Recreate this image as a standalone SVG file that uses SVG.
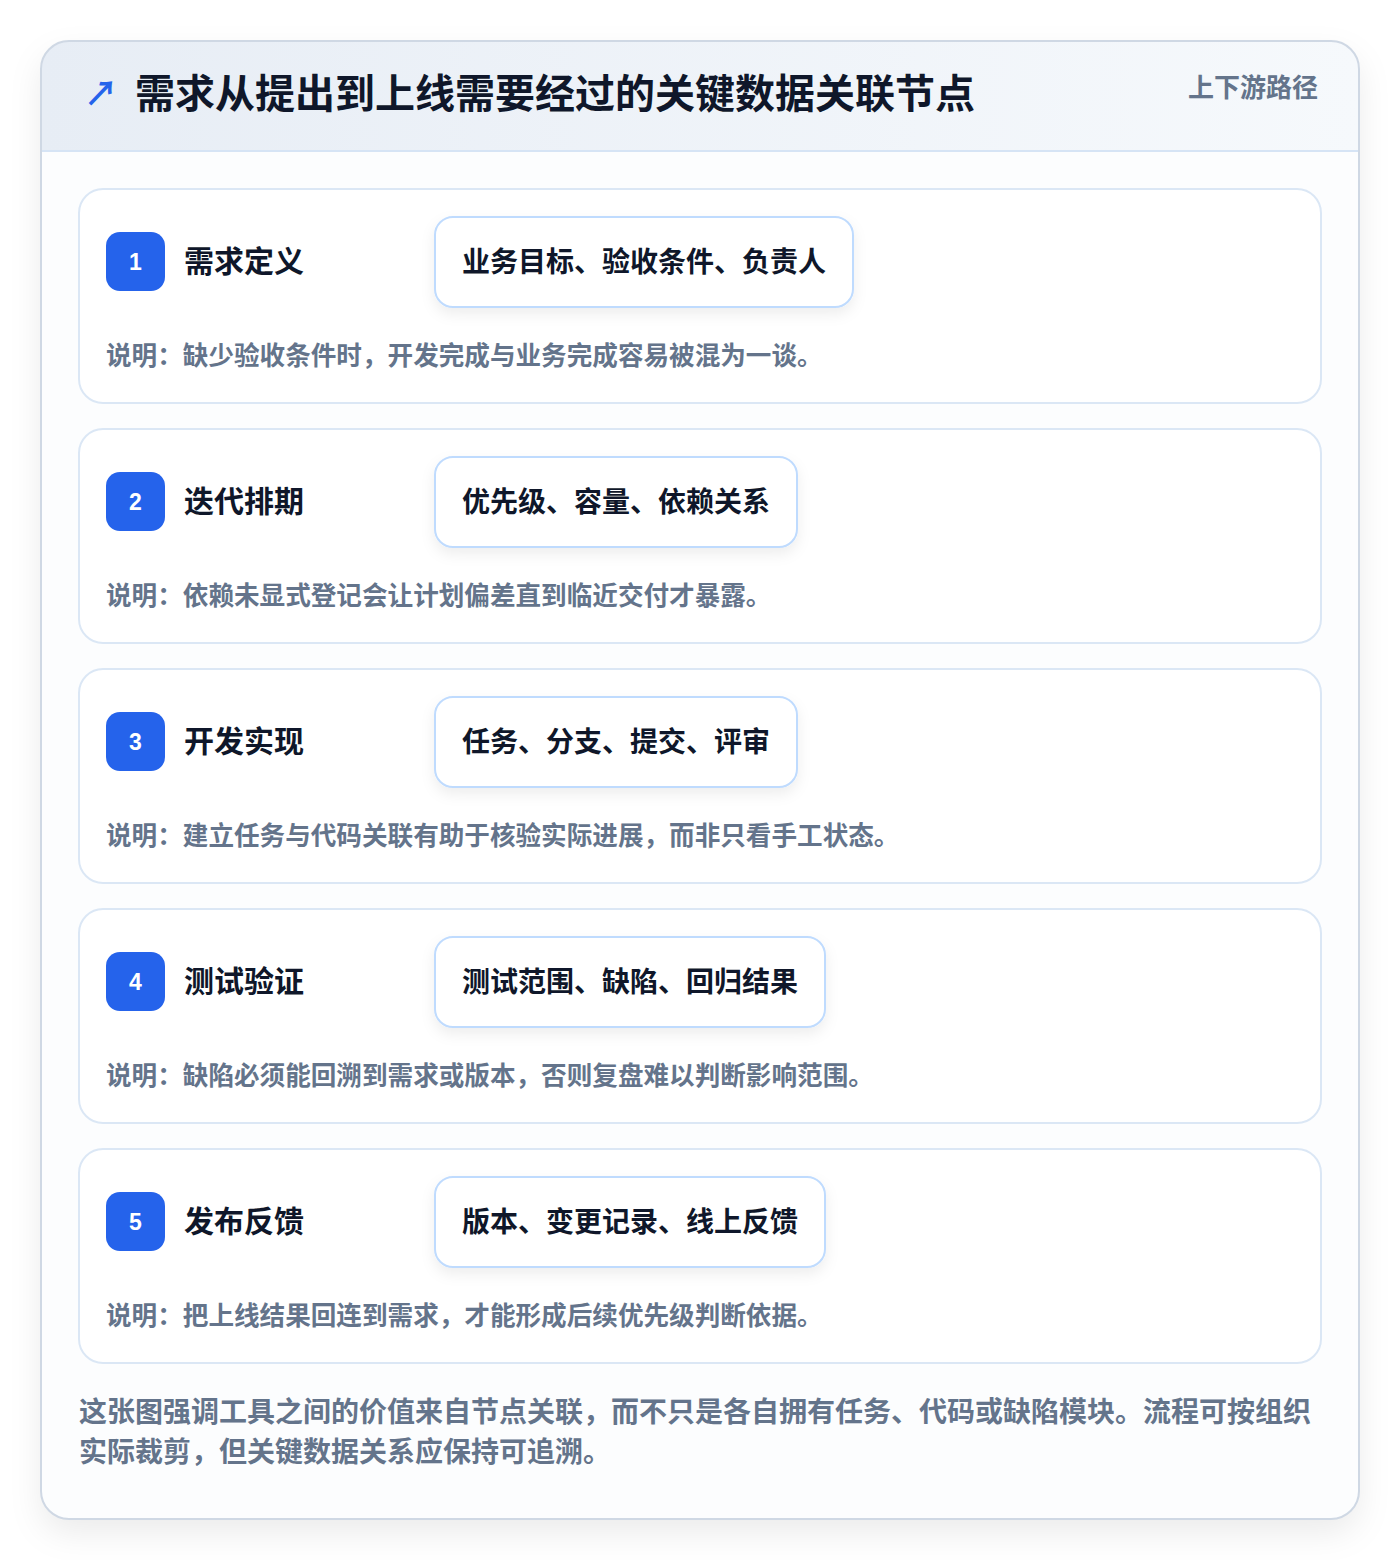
<svg xmlns="http://www.w3.org/2000/svg" width="1400" height="1560" viewBox="0 0 1400 1560">
<defs>
<linearGradient id="hdr" x1="0" y1="0" x2="1" y2="0">
<stop offset="0" stop-color="#e7edf5"/>
<stop offset="1" stop-color="#f6f9fc"/>
</linearGradient>
<filter id="outerShadow" x="-10%" y="-10%" width="120%" height="120%">
<feDropShadow dx="0" dy="14" stdDeviation="16" flood-color="#0f172a" flood-opacity="0.08"/>
</filter>
<filter id="chipShadow" x="-10%" y="-20%" width="120%" height="150%">
<feDropShadow dx="0" dy="6" stdDeviation="7" flood-color="#0f172a" flood-opacity="0.07"/>
</filter>
<clipPath id="cardClip"><rect x="41" y="41" width="1318" height="1478" rx="28"/></clipPath>
</defs>
<style>
text{font-family:"Noto Sans CJK SC","Noto Sans",sans-serif}
.card{fill:#ffffff;stroke:#dbe7f5;stroke-width:2}
.badge{fill:#2563eb}
.num{fill:#ffffff;font-family:"Liberation Sans","Noto Sans",sans-serif;font-size:23px;font-weight:700}
.stitle{fill:#0f172a;font-size:30px;font-weight:700}
.chip{fill:#ffffff;stroke:#bfdbfe;stroke-width:2}
.chiptext{fill:#0f172a;font-size:28px;font-weight:700}
.note{fill:#64748b;font-size:25.6px;font-weight:600}
.foot{fill:#64748b;font-size:28px;font-weight:600}
</style>
<rect x="0" y="0" width="1400" height="1560" fill="#ffffff"/>
<g id="frame">
<rect x="41" y="41" width="1318" height="1478" rx="28" fill="#fcfdfe" filter="url(#outerShadow)"/>
<g clip-path="url(#cardClip)">
<rect x="41" y="41" width="1318" height="110" fill="url(#hdr)"/>
<line x1="41" y1="151" x2="1359" y2="151" stroke="#d6e4f5" stroke-width="2"/>
</g>
<rect x="41" y="41" width="1318" height="1478" rx="28" fill="none" stroke="#cfd8e4" stroke-width="2"/>
</g>
<g id="header">
<text x="84" y="106" fill="#2563eb" font-family="DejaVu Sans, sans-serif" font-size="34" font-weight="700">↗</text>
<text x="135" y="108" fill="#0f172a" font-size="40" font-weight="700">需求从提出到上线需要经过的关键数据关联节点</text>
<text x="1318" y="97" fill="#64748b" font-size="26" font-weight="700" text-anchor="end">上下游路径</text>
</g>
<g id="connectors"></g>
<g id="step1">
<rect class="card" x="79" y="189" width="1242" height="214" rx="24"/>
<rect class="badge" x="106" y="232" width="59" height="59" rx="14"/>
<text class="num" x="135.5" y="270" text-anchor="middle">1</text>
<text class="stitle" x="184" y="272">需求定义</text>
<rect class="chip" x="435" y="217" width="418" height="90" rx="18" filter="url(#chipShadow)"/>
<text class="chiptext" x="462" y="272">业务目标、验收条件、负责人</text>
<text class="note" x="106" y="365">说明：缺少验收条件时，开发完成与业务完成容易被混为一谈。</text>
</g>
<g id="step2">
<rect class="card" x="79" y="429" width="1242" height="214" rx="24"/>
<rect class="badge" x="106" y="472" width="59" height="59" rx="14"/>
<text class="num" x="135.5" y="510" text-anchor="middle">2</text>
<text class="stitle" x="184" y="512">迭代排期</text>
<rect class="chip" x="435" y="457" width="362" height="90" rx="18" filter="url(#chipShadow)"/>
<text class="chiptext" x="462" y="512">优先级、容量、依赖关系</text>
<text class="note" x="106" y="605">说明：依赖未显式登记会让计划偏差直到临近交付才暴露。</text>
</g>
<g id="step3">
<rect class="card" x="79" y="669" width="1242" height="214" rx="24"/>
<rect class="badge" x="106" y="712" width="59" height="59" rx="14"/>
<text class="num" x="135.5" y="750" text-anchor="middle">3</text>
<text class="stitle" x="184" y="752">开发实现</text>
<rect class="chip" x="435" y="697" width="362" height="90" rx="18" filter="url(#chipShadow)"/>
<text class="chiptext" x="462" y="752">任务、分支、提交、评审</text>
<text class="note" x="106" y="845">说明：建立任务与代码关联有助于核验实际进展，而非只看手工状态。</text>
</g>
<g id="step4">
<rect class="card" x="79" y="909" width="1242" height="214" rx="24"/>
<rect class="badge" x="106" y="952" width="59" height="59" rx="14"/>
<text class="num" x="135.5" y="990" text-anchor="middle">4</text>
<text class="stitle" x="184" y="992">测试验证</text>
<rect class="chip" x="435" y="937" width="390" height="90" rx="18" filter="url(#chipShadow)"/>
<text class="chiptext" x="462" y="992">测试范围、缺陷、回归结果</text>
<text class="note" x="106" y="1085">说明：缺陷必须能回溯到需求或版本，否则复盘难以判断影响范围。</text>
</g>
<g id="step5">
<rect class="card" x="79" y="1149" width="1242" height="214" rx="24"/>
<rect class="badge" x="106" y="1192" width="59" height="59" rx="14"/>
<text class="num" x="135.5" y="1230" text-anchor="middle">5</text>
<text class="stitle" x="184" y="1232">发布反馈</text>
<rect class="chip" x="435" y="1177" width="390" height="90" rx="18" filter="url(#chipShadow)"/>
<text class="chiptext" x="462" y="1232">版本、变更记录、线上反馈</text>
<text class="note" x="106" y="1325">说明：把上线结果回连到需求，才能形成后续优先级判断依据。</text>
</g>
<g id="footer">
<text class="foot" x="79" y="1422">这张图强调工具之间的价值来自节点关联，而不只是各自拥有任务、代码或缺陷模块。流程可按组织</text>
<text class="foot" x="79" y="1462">实际裁剪，但关键数据关系应保持可追溯。</text>
</g>
</svg>
